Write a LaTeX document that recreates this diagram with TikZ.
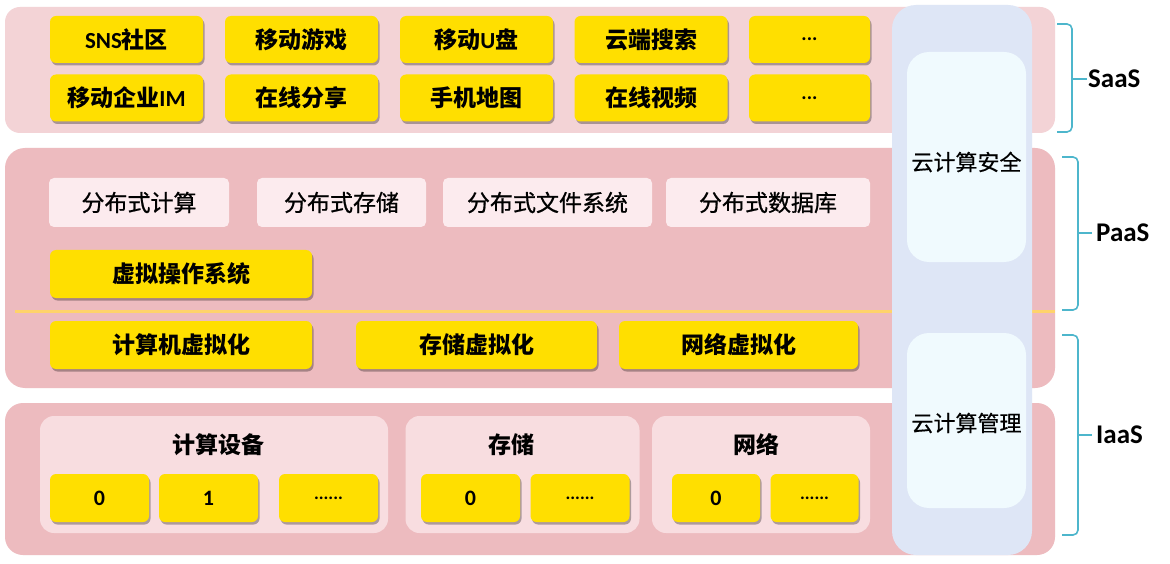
\documentclass[tikz,border=0pt]{standalone}
\usepackage{fontspec}
\setmainfont{Noto Sans CJK SC}
\newfontfamily\lat{Carlito}
\newfontfamily\cjkmed[FakeBold=0.8]{Noto Sans CJK SC}
\newfontfamily\cjkcol[FakeBold=0.4]{Noto Sans CJK SC}
\usetikzlibrary{shadows}
\definecolor{saasbg}{HTML}{F3D3D6}
\definecolor{paasbg}{HTML}{EDBBBF}
\definecolor{iaasbg}{HTML}{EDBBBF}
\definecolor{yel}{HTML}{FFDF00}
\definecolor{pbox}{HTML}{FCEBEE}
\definecolor{ipanel}{HTML}{F8DDE0}
\definecolor{colbg}{HTML}{DEE6F6}
\definecolor{inbg}{HTML}{F0FAFE}
\definecolor{brc}{HTML}{4DB6CC}
\definecolor{yline}{HTML}{FFD36B}
\begin{document}
\begin{tikzpicture}[x=1pt,y=-1pt,
  ybox/.style={fill=yel, draw=none, rounded corners=6pt, inner sep=0pt,
    drop shadow={shadow xshift=1.5pt, shadow yshift=-2.5pt, fill=black, opacity=0.3},
    font=\fontsize{23}{25}\selectfont\bfseries},
  wbox/.style={fill=pbox, draw=none, rounded corners=5pt, inner sep=0pt,
    font=\cjkmed\fontsize{23}{25}\selectfont},
  panel/.style={fill=ipanel, draw=none, rounded corners=14pt, inner sep=0pt},
  ptitle/.style={font=\fontsize{23}{25}\selectfont\bfseries, inner sep=0pt},
  nbox/.style={ybox, minimum height=48pt, font=\lat\fontsize{22}{24}\selectfont\bfseries},
  coltxt/.style={font=\cjkcol\fontsize{22}{24}\selectfont, inner sep=0pt},
  lbl/.style={font=\lat\fontsize{27}{29}\selectfont\bfseries, anchor=west, inner sep=0pt},
  brace/.style={draw=brc, line width=1.6pt, rounded corners=5pt}
]
\useasboundingbox (0,0) rectangle (1170,564);
\fill[white] (0,0) rectangle (1170,564);
% bands
\fill[saasbg, rounded corners=15pt] (5,7) rectangle (1055,133);
\fill[paasbg, rounded corners=20pt] (5,148) rectangle (1055,388);
\fill[iaasbg, rounded corners=18pt] (5,403) rectangle (1055,555);
% yellow separator line
\draw[yline, line width=3pt] (15,311) -- (1055,311);

% SaaS row 1
\node[ybox, minimum width=153pt, minimum height=47pt] (s11) at (126.5,39.5) {{\lat SNS}社区};
\node[ybox, minimum width=153pt, minimum height=47pt] (s12) at (301.5,39.5) {移动游戏};
\node[ybox, minimum width=153pt, minimum height=47pt] (s13) at (476.5,39.5) {移动{\lat U}盘};
\node[ybox, minimum width=153pt, minimum height=47pt] (s14) at (651,39.5) {云端搜索};
\node[ybox, minimum width=121pt, minimum height=47pt] (s15) at (809.5,39.5) {\lat\fontsize{20}{22}\selectfont ...};
% SaaS row 2
\node[ybox, minimum width=153pt, minimum height=47pt] (s21) at (126.5,98) {移动企业{\lat IM}};
\node[ybox, minimum width=153pt, minimum height=47pt] (s22) at (301.5,98) {在线分享};
\node[ybox, minimum width=153pt, minimum height=47pt] (s23) at (476.5,98) {手机地图};
\node[ybox, minimum width=153pt, minimum height=47pt] (s24) at (651,98) {在线视频};
\node[ybox, minimum width=121pt, minimum height=47pt] (s25) at (809.5,98) {\lat\fontsize{20}{22}\selectfont ...};

% PaaS
\node[wbox, minimum width=180pt, minimum height=49pt] (p1) at (139,202.5) {分布式计算};
\node[wbox, minimum width=169pt, minimum height=49pt] (p2) at (341.5,202.5) {分布式存储};
\node[wbox, minimum width=209pt, minimum height=49pt] (p3) at (547.5,202.5) {分布式文件系统};
\node[wbox, minimum width=204pt, minimum height=49pt] (p4) at (768,202.5) {分布式数据库};
\node[ybox, minimum width=262pt, minimum height=48pt] (vos) at (181,274) {虚拟操作系统};

% virtualization row
\node[ybox, minimum width=262pt, minimum height=48pt] (v1) at (181,345) {计算机虚拟化};
\node[ybox, minimum width=241pt, minimum height=48pt] (v2) at (476.5,345) {存储虚拟化};
\node[ybox, minimum width=239pt, minimum height=48pt] (v3) at (738.5,345) {网络虚拟化};

% IaaS panels
\node[panel, minimum width=348pt, minimum height=117pt] (ip1) at (214,474.5) {};
\node[panel, minimum width=234pt, minimum height=117pt] (ip2) at (522.5,474.5) {};
\node[panel, minimum width=218pt, minimum height=117pt] (ip3) at (761,474.5) {};
\node[ptitle] (t1) at (218,445) {计算设备};
\node[ptitle] (t2) at (511,445) {存储};
\node[ptitle] (t3) at (756,445) {网络};
\node[nbox, minimum width=99pt] (c0) at (99.5,498) {0};
\node[nbox, minimum width=99pt] (c1) at (208.5,498) {1};
\node[nbox, minimum width=99pt] (c2) at (328.5,498) {\fontsize{18}{20}\selectfont ......};
\node[nbox, minimum width=99pt] (d0) at (470.5,498) {0};
\node[nbox, minimum width=99pt] (d1) at (580,498) {\fontsize{18}{20}\selectfont ......};
\node[nbox, minimum width=88pt] (n0) at (716,498) {0};
\node[nbox, minimum width=88pt] (n1) at (814.5,498) {\fontsize{18}{20}\selectfont ......};

% side column
\fill[colbg, rounded corners=24pt] (892,5) rectangle (1032,555);
\node[fill=inbg, rounded corners=22pt, minimum width=119pt, minimum height=210pt, inner sep=0pt] (sec) at (966.5,157) {};
\node[fill=inbg, rounded corners=22pt, minimum width=119pt, minimum height=175pt, inner sep=0pt] (mgmt) at (966.5,420.5) {};
\node[coltxt] (sect) at (966.5,162) {云计算安全};
\node[coltxt] (mgmtt) at (966.5,423) {云计算管理};

% braces
\coordinate (b1a) at (1057,24);  \coordinate (b1b) at (1057,132); \coordinate (b1m) at (1087,79);
\coordinate (b2a) at (1062,157); \coordinate (b2b) at (1062,310); \coordinate (b2m) at (1092,233);
\coordinate (b3a) at (1062,335); \coordinate (b3b) at (1062,535); \coordinate (b3m) at (1092,435);
\draw[brace] (b1a) -| (1072,79) |- (b1b);
\draw[brace] (1072,79) -- (b1m);
\draw[brace] (b2a) -| (1078,233) |- (b2b);
\draw[brace] (1078,233) -- (b2m);
\draw[brace] (b3a) -| (1078,435) |- (b3b);
\draw[brace] (1078,435) -- (b3m);
\node[lbl] (saas) at (1088,79) {SaaS};
\node[lbl] (paas) at (1096,233) {PaaS};
\node[lbl] (iaas) at (1096,435) {IaaS};
\end{tikzpicture}
\end{document}
